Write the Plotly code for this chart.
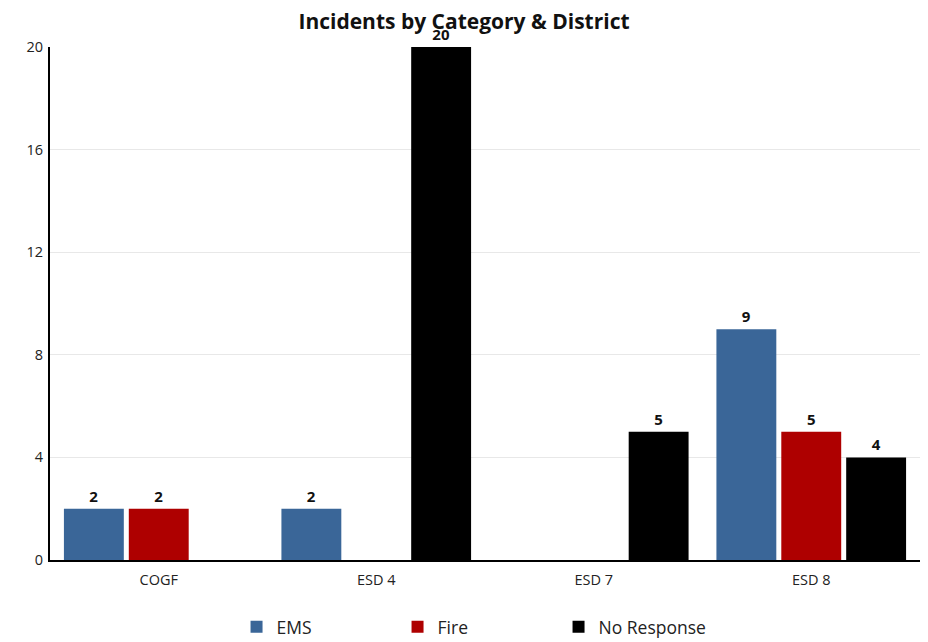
import plotly.graph_objects as go

categories = ["COGF", "ESD 4", "ESD 7", "ESD 8"]
ems = [2, 2, 0, 9]
fire = [2, 0, 0, 5]
no_response = [0, 20, 5, 4]
series_names = ["EMS", "Fire", "No Response"]
colors = ["#3a6698", "#ae0000", "#000000"]
y_ticks = [0, 4, 8, 12, 16, 20]

FONT = "Open Sans"
fig = go.Figure()
for name, vals, col in zip(series_names, [ems, fire, no_response], colors):
    fig.add_trace(go.Bar(
        name=name, x=categories, y=vals, marker=dict(color=col, line=dict(width=0)),
        text=[str(v) if v else "" for v in vals], textposition="outside",
        textfont=dict(family=FONT, size=15, color="#111111", weight="bold"),
        cliponaxis=False, showlegend=False,
    ))
# legend entries with larger square swatches
for name, col in zip(series_names, colors):
    fig.add_trace(go.Scatter(
        name=name, x=[None], y=[None], mode="markers",
        marker=dict(symbol="square", size=19, color=col), showlegend=True,
    ))

fig.update_layout(
    width=928, height=642,
    margin=dict(l=42, r=16, t=39, b=90, autoexpand=False),
    paper_bgcolor="white", plot_bgcolor="white",
    title=dict(text="<b>Incidents by Category & District</b>", x=0.4914, xanchor="center",
               y=0.978, yanchor="middle", font=dict(family=FONT, size=21, color="#111111")),
    barmode="group", bargap=0.105, bargroupgap=0.077,
    showlegend=True,
    legend=dict(orientation="h", x=0.492, xanchor="center", y=-0.1306, yanchor="middle",
                font=dict(family=FONT, size=17.5, color="#222222"),
                entrywidth=116, itemsizing="constant", traceorder="normal"),
    xaxis=dict(showline=True, linecolor="#000000", linewidth=2, showgrid=False, automargin=False,
               tickfont=dict(family=FONT, size=14.5, color="#222222"), ticks="",
               ticklabelstandoff=6),
    yaxis=dict(range=[0, 20], tickvals=y_ticks, showline=True, linecolor="#000000", linewidth=2,
               showgrid=True, gridcolor="#e8e8e8", gridwidth=1, zeroline=False, automargin=False,
               tickfont=dict(family=FONT, size=14.5, color="#222222"), ticks="",
               ticklabelstandoff=2),
)
fig.write_html("out.html")
